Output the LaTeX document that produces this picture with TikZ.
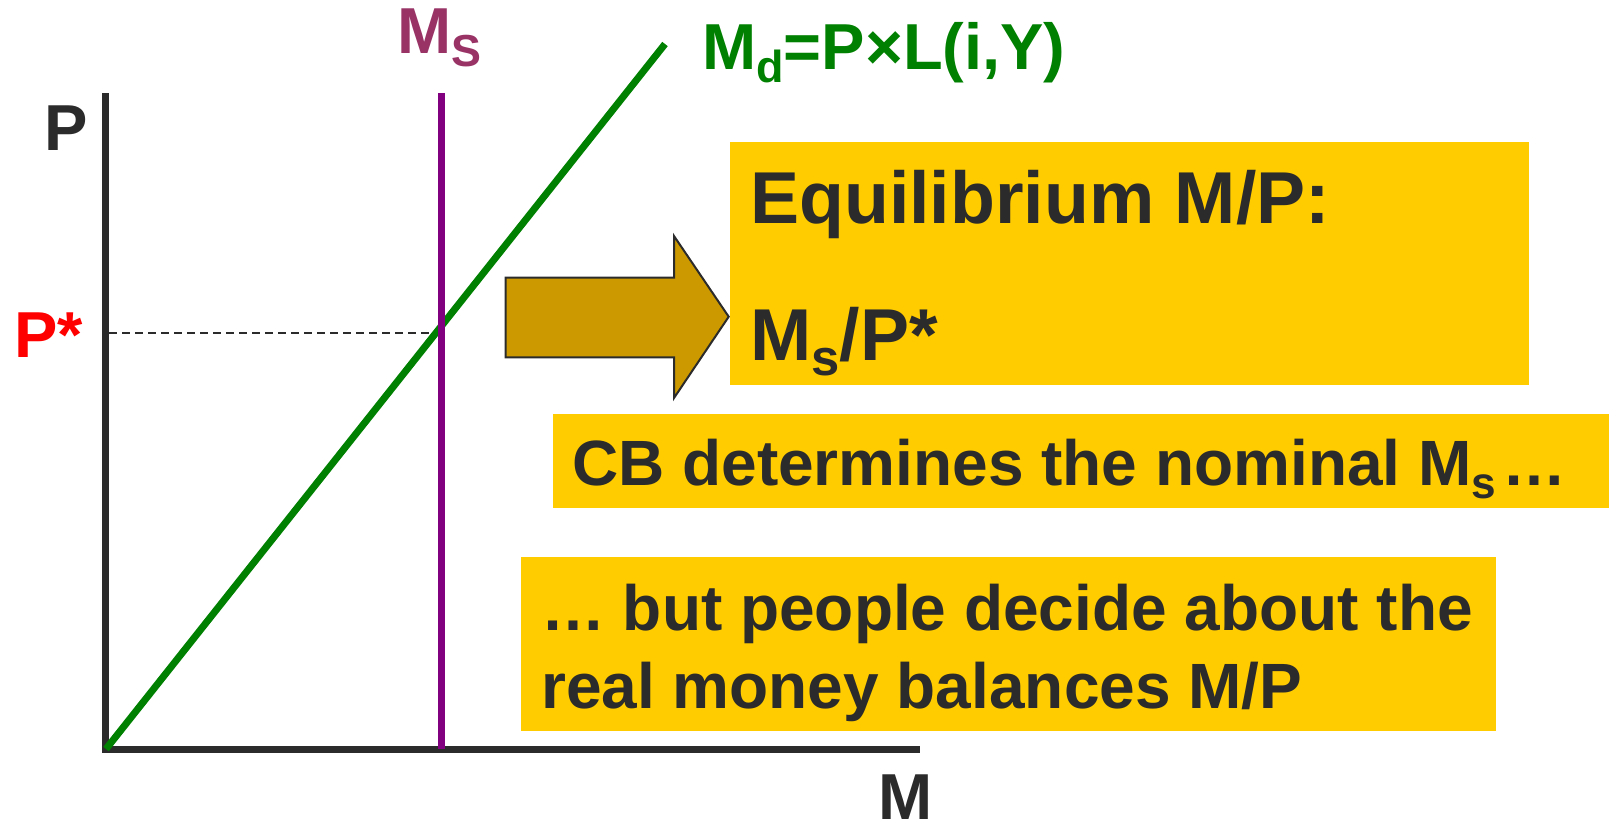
\documentclass[tikz,border=0pt]{standalone}
\usepackage{fontspec}
\setmainfont{Liberation Sans}
\definecolor{InkGray}{RGB}{43,43,43}
\definecolor{MsPurple}{RGB}{128,0,128}
\definecolor{MsLabel}{RGB}{153,51,102}
\definecolor{MdGreen}{RGB}{0,128,0}
\definecolor{BoxYellow}{RGB}{255,204,0}
\definecolor{ArrowGold}{RGB}{204,153,0}
\newcommand{\lowsub}[1]{\raisebox{-0.21em}{\fontsize{0.69em}{0.69em}\selectfont #1}}
\tikzset{
  axis/.style={draw=InkGray,line width=7pt},
  msline/.style={draw=MsPurple,line width=7pt},
  mdline/.style={draw=MdGreen,line width=7pt},
  guide/.style={draw=InkGray,line width=2pt,dash pattern=on 8pt off 5pt},
  bigarrow/.style={draw=InkGray,fill=ArrowGold,line width=2pt,line join=miter},
  ybox/.style={fill=BoxYellow,draw=none,inner sep=0pt,anchor=north west},
  lbl/.style={font=\bfseries\fontsize{65}{78}\selectfont,text=InkGray,inner sep=0pt,anchor=base west},
  eqtxt/.style={lbl,font=\bfseries\fontsize{73.5}{88}\selectfont},
  boxtxt/.style={lbl,font=\bfseries\fontsize{64}{77}\selectfont},
}
\begin{document}
\begin{tikzpicture}[x=1pt,y=-1pt]
\useasboundingbox (0,0) rectangle (1609,825);
% the diagram
\coordinate (yfoot) at (105.3,752.5);
\coordinate (ytop) at (105.3,93);
\coordinate (xfoot) at (101.8,749);
\coordinate (xend) at (920,749);
\coordinate (mstop) at (441,93);
\coordinate (msbot) at (441,749);
\coordinate (mdlo) at (106,749);
\coordinate (mdhi) at (665,44);
\coordinate (pstar) at (109,333);
\coordinate (eq) at (437,333);
\draw[axis] (yfoot) -- (ytop);
\draw[axis] (xfoot) -- (xend);
\draw[guide] (pstar) -- (eq);
\draw[mdline] (mdlo) -- (mdhi);
\draw[msline] (mstop) -- (msbot);
\node[lbl] (plabel) at (44,150) {P};
\node[lbl,text=red] (pstarlabel) at (14,357) {P*};
\node[lbl,text=MsLabel] (mslabel) at (397.5,53) {M\lowsub{S}};
\node[lbl,text=MdGreen] (mdlabel) at (702,69.3) {M\lowsub{d}=P×L(i,Y)};
\node[lbl] (mlabel) at (878,819) {M};
% arrow and boxes
\draw[bigarrow] (505.7,277.7) -- (674,277.7) -- (674,236) -- (728.7,316.7)
  -- (674,398) -- (674,357.3) -- (505.7,357.3) -- cycle;
\node[ybox,minimum width=799.5pt,minimum height=243.5pt] (eqbox) at (729.5,141.5) {};
\node[eqtxt] (eqline1) at (750,223.3) {Equilibrium M/P:};
\node[eqtxt] (eqline2) at (750,360) {M\lowsub{s}/P*};
\node[ybox,minimum width=1056pt,minimum height=94.5pt] (cbbox) at (553,413.5) {};
\node[boxtxt] (cbline) at (572,485) {CB determines the nominal M\lowsub{s}\kern6pt…};
\node[ybox,minimum width=975pt,minimum height=173.6pt] (pplbox) at (521,557) {};
\node[boxtxt] (pplline1) at (541,630.7) {… but people decide about the};
\node[boxtxt] (pplline2) at (541,708) {real money balances M/P};
\end{tikzpicture}
\end{document}
